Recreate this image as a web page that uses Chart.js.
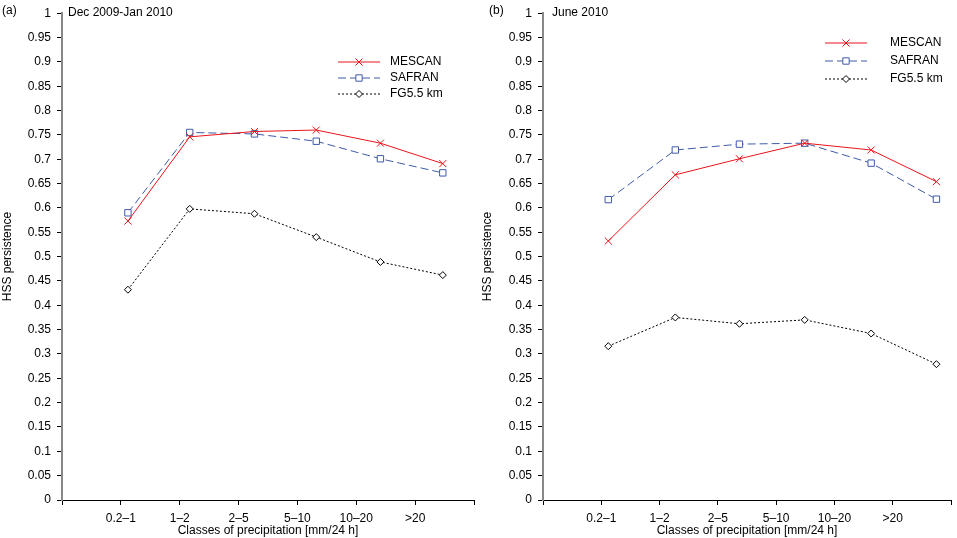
<!DOCTYPE html>
<html><head><meta charset="utf-8">
<script src="https://cdn.jsdelivr.net/npm/chart.js@4"></script>
<style>
body{margin:0;background:#fff;font-family:"Liberation Sans",Arial,sans-serif;}
.c{position:absolute;top:0;height:538px;}
.t{position:absolute;font-size:12px;color:#000;}
</style></head><body>
<div class="c" style="left:0;width:480px"><canvas id="ca"></canvas></div>
<div class="c" style="left:480px;width:477px"><canvas id="cb"></canvas></div>
<div class="t" style="left:2px;top:3px">(a)</div>
<div class="t" style="left:68px;top:5px">Dec 2009-Jan 2010</div>
<div class="t" style="left:489px;top:3px">(b)</div>
<div class="t" style="left:552px;top:5px">June 2010</div>
<script>
const cats = ['0.2–1', '1–2', '2–5', '5–10', '10–20', '>20'];
// x positions of the points (in class units, axis 0..7)
const xA = [1.12, 2.17, 3.27, 4.32, 5.41, 6.47];
const xB = [1.12, 2.27, 3.37, 4.49, 5.63, 6.75];
const mescanA = [0.573, 0.746, 0.757, 0.760, 0.733, 0.691];
const safranA = [0.590, 0.755, 0.752, 0.737, 0.701, 0.672];
const fgA = [0.432, 0.598, 0.588, 0.540, 0.489, 0.462];
const mescanB = [0.532, 0.668, 0.701, 0.733, 0.719, 0.654];
const safranB = [0.617, 0.719, 0.731, 0.733, 0.692, 0.618];
const fgB = [0.316, 0.375, 0.362, 0.370, 0.342, 0.279];
const names = ['MESCAN', 'SAFRAN', 'FG5.5 km'];

function pts(xs, ys) { return xs.map((x, i) => ({ x: x, y: ys[i] })); }

const legendPlugin = {
    id: 'inlegend',
    afterDraw(chart, args, opt) {
        const ctx = chart.ctx;
        chart.data.datasets.forEach((ds, i) => {
            let y = opt.y + i * opt.gap;
            ctx.save();
            ctx.strokeStyle = ds.borderColor;
            ctx.lineWidth = ds.borderWidth;
            ctx.setLineDash(ds.borderDash || []);
            ctx.beginPath();
            ctx.moveTo(opt.x, y);
            ctx.lineTo(opt.x + 42, y);
            ctx.stroke();
            ctx.setLineDash([]);
            ctx.fillStyle = '#fff';
            Chart.helpers.drawPoint(ctx, {
                pointStyle: ds.pointStyle, radius: ds.pointRadius, borderWidth: 1
            }, opt.x + 21, y);
            ctx.restore();
            ctx.fillStyle = '#000';
            ctx.font = '12px "Liberation Sans", Arial';
            ctx.textBaseline = 'middle';
            ctx.fillText(names[i], opt.tx, y);
        });
    }
};

function make(id, xs, m, s, f, yw, pr, leg) {
    const font = { family: '"Liberation Sans", Arial', size: 12 };
    new Chart(document.getElementById(id), {
        type: 'line',
        data: {
            datasets: [
                { data: pts(xs, m), borderColor: '#e8151b', pointBorderColor: '#e8151b', borderWidth: 1,
                  pointStyle: 'crossRot', pointRadius: 5, pointBackgroundColor: 'transparent' },
                { data: pts(xs, s), borderColor: '#3f5aa8', pointBorderColor: '#3f5aa8', borderWidth: 1, borderDash: [8, 4],
                  pointStyle: 'rect', pointRadius: 4.5, pointBackgroundColor: '#fff' },
                { data: pts(xs, f), borderColor: '#000', pointBorderColor: '#000', borderWidth: 1, borderDash: [2, 2],
                  pointStyle: 'rectRot', pointRadius: 3.5, pointBackgroundColor: '#fff' },
            ],
        },
        options: {
            animation: false,
            responsive: true,
            maintainAspectRatio: false,
            layout: { padding: { top: 13, right: pr, bottom: 0, left: 0 } },
            plugins: { legend: { display: false }, tooltip: { enabled: false }, inlegend: leg },
            scales: {
                x: {
                    type: 'linear', min: 0, max: 7,
                    afterFit: (a) => { a.height = 38; },
                    afterBuildTicks: (a) => { a.ticks = [0, 1, 2, 3, 4, 5, 6, 7].map(v => ({ value: v })); },
                    ticks: { color: '#000', font: font, padding: 6, autoSkip: false, maxRotation: 0,
                             callback: (v) => (v >= 1 && v <= 6 ? cats[v - 1] : '') },
                    grid: { drawOnChartArea: false, tickLength: 5, color: '#000' },
                    border: { color: '#000' },
                    title: { display: true, text: 'Classes of precipitation [mm/24 h]', color: '#000', font: font, padding: 0 },
                },
                y: {
                    min: 0, max: 1,
                    afterFit: (a) => { a.width = yw; },
                    ticks: { stepSize: 0.05, color: '#000', font: font, padding: 6,
                             callback: (v) => +v.toFixed(2) },
                    grid: { drawOnChartArea: false, tickLength: 5, color: '#000' },
                    border: { color: '#888', width: 2 },
                    title: { display: true, text: 'HSS persistence', color: '#000', font: font, padding: 0 },
                },
            },
        },
        plugins: [legendPlugin],
    });
}

make('ca', xA, mescanA, safranA, fgA, 62, 5, { x: 338, tx: 390, y: 62, gap: 16 });
make('cb', xB, mescanB, safranB, fgB, 63, 1, { x: 345, tx: 410, y: 43, gap: 18 });
</script>
</body></html>
